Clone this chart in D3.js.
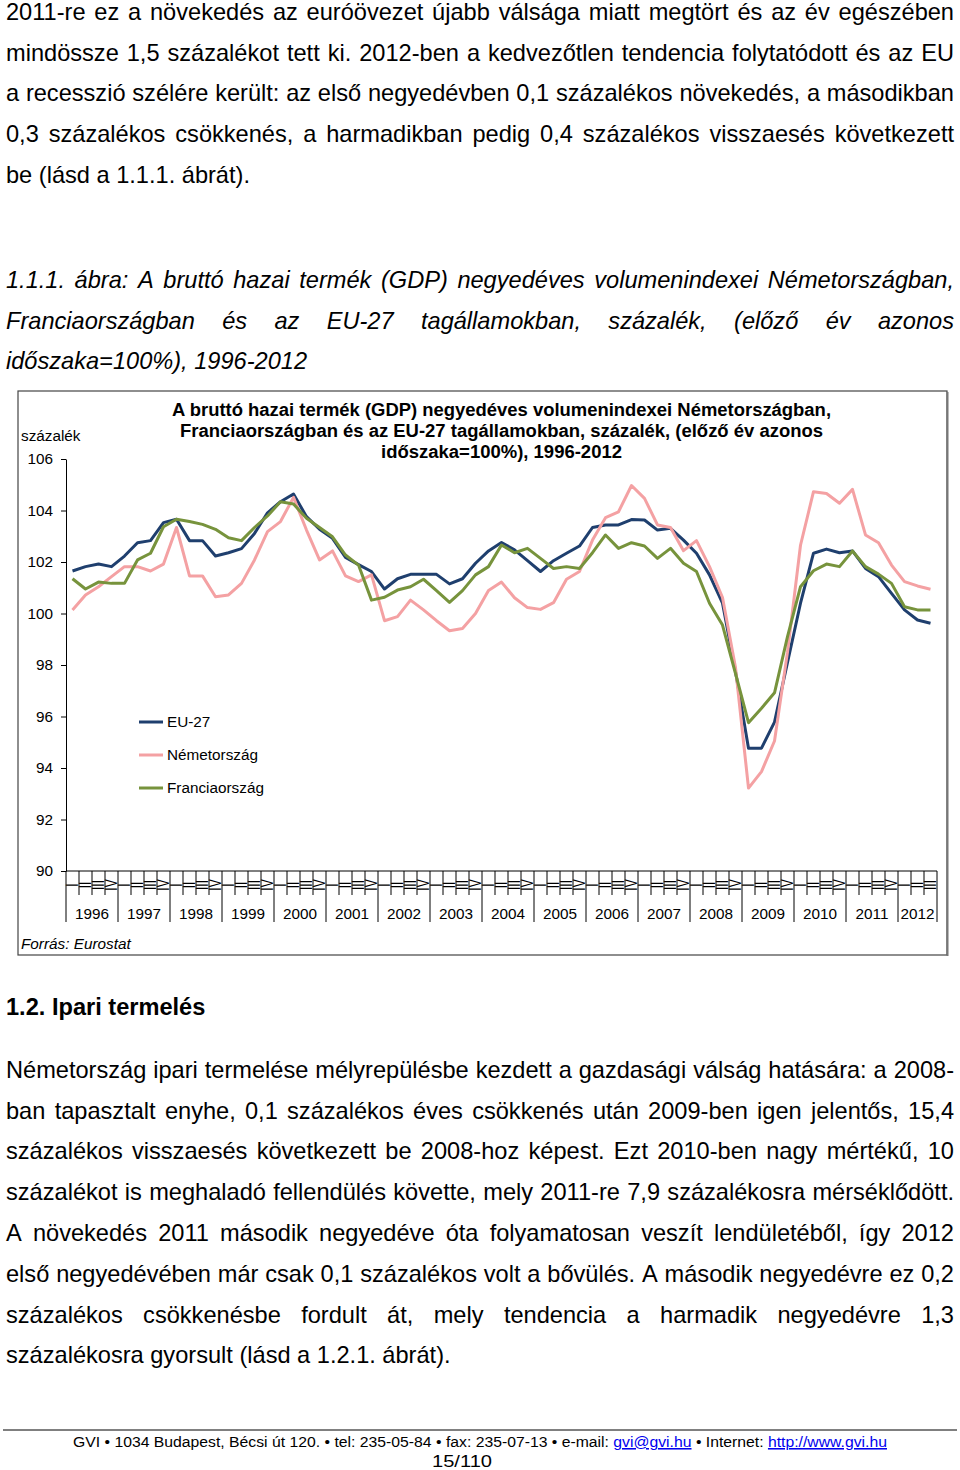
<!DOCTYPE html>
<html><head><meta charset="utf-8">
<script src="https://cdn.jsdelivr.net/npm/d3@7"></script>
<style>
html,body{margin:0;padding:0;background:#fff;}
svg{display:block;}
</style></head>
<body>
<svg id="page" width="960" height="1470"></svg>
<script>
// ---------- DATA ----------
const years = ["1996","1997","1998","1999","2000","2001","2002","2003","2004","2005","2006","2007","2008","2009","2010","2011","2012"];
const quarterLabels = ["I","II","III","IV"];
const yTicks = [90,92,94,96,98,100,102,104,106];
const seriesNames = ["EU-27","Németország","Franciaország"];
const eu27 = [101.65,101.82,101.92,101.82,102.23,102.75,102.83,103.53,103.66,102.83,102.83,102.23,102.36,102.52,103.11,103.91,104.34,104.64,103.76,103.27,102.92,102.18,101.90,101.63,100.95,101.35,101.52,101.52,101.52,101.15,101.35,101.95,102.43,102.76,102.47,102.05,101.63,102.05,102.34,102.62,103.34,103.44,103.44,103.65,103.63,103.24,103.31,102.85,102.34,101.50,100.40,97.75,94.77,94.77,95.78,98.1,100.4,102.34,102.50,102.36,102.43,101.75,101.43,100.78,100.14,99.75,99.62];
const germany = [100.14,100.72,101.04,101.43,101.82,101.82,101.65,101.92,103.34,101.46,101.46,100.65,100.72,101.17,102.08,103.18,103.57,104.51,103.24,102.08,102.43,101.46,101.24,101.50,99.72,99.88,100.52,100.14,99.72,99.33,99.42,100.0,100.89,101.22,100.61,100.23,100.16,100.42,101.33,101.63,102.85,103.72,103.95,104.97,104.47,103.44,103.34,102.44,102.83,101.82,100.62,97.9,93.22,93.86,95.05,98.5,102.65,104.73,104.66,104.28,104.82,103.05,102.75,101.88,101.24,101.07,100.94];
const france = [101.35,100.95,101.22,101.17,101.17,102.08,102.34,103.37,103.66,103.57,103.46,103.27,102.94,102.83,103.34,103.79,104.34,104.25,103.70,103.34,102.98,102.27,101.88,100.52,100.63,100.91,101.04,101.33,100.89,100.43,100.89,101.50,101.82,102.66,102.36,102.53,102.14,101.75,101.82,101.75,102.36,103.05,102.53,102.75,102.62,102.14,102.53,101.95,101.63,100.40,99.55,97.67,95.76,96.32,96.92,99.1,101.04,101.66,101.92,101.82,102.43,101.82,101.53,101.17,100.26,100.14,100.14];

const para1 = [
 "2011-re ez a növekedés az euróövezet újabb válsága miatt megtört és az év egészében",
 "mindössze 1,5 százalékot tett ki. 2012-ben a kedvezőtlen tendencia folytatódott és az EU",
 "a recesszió szélére került: az első negyedévben 0,1 százalékos növekedés, a másodikban",
 "0,3 százalékos csökkenés, a harmadikban pedig 0,4 százalékos visszaesés következett",
 "be (lásd a 1.1.1. ábrát)."
];
const caption = [
 "1.1.1. ábra: A bruttó hazai termék (GDP) negyedéves volumenindexei Németországban,",
 "Franciaországban és az EU-27 tagállamokban, százalék, (előző év azonos",
 "időszaka=100%), 1996-2012"
];
const chartTitle = [
 "A bruttó hazai termék (GDP) negyedéves volumenindexei Németországban,",
 "Franciaországban és az EU-27 tagállamokban, százalék, (előző év azonos",
 "időszaka=100%), 1996-2012"
];
const heading = "1.2. Ipari termelés";
const para2 = [
 "Németország ipari termelése mélyrepülésbe kezdett a gazdasági válság hatására: a 2008-",
 "ban tapasztalt enyhe, 0,1 százalékos éves csökkenés után 2009-ben igen jelentős, 15,4",
 "százalékos visszaesés következett be 2008-hoz képest. Ezt 2010-ben nagy mértékű, 10",
 "százalékot is meghaladó fellendülés követte, mely 2011-re 7,9 százalékosra mérséklődött.",
 "A növekedés 2011 második negyedéve óta folyamatosan veszít lendületéből, így 2012",
 "első negyedévében már csak 0,1 százalékos volt a bővülés. A második negyedévre ez 0,2",
 "százalékos csökkenésbe fordult át, mely tendencia a harmadik negyedévre 1,3",
 "százalékosra gyorsult (lásd a 1.2.1. ábrát)."
];

// ---------- PAGE ----------
const svg = d3.select("#page");
const FONT = "'Liberation Sans', Arial, Helvetica, sans-serif";
const BODY = 23.6;

function measure(str, size, weight, style){
  const t = svg.append("text").attr("font-family", FONT).attr("font-size", size)
    .attr("font-weight", weight||"normal").attr("font-style", style||"normal").text(str);
  const w = t.node().getComputedTextLength(); t.remove(); return w;
}
function textLine(str, x0, x1, baseline, opts){
  const size = opts.size, weight = opts.weight||"normal", style = opts.style||"normal";
  const t = svg.append("text").attr("font-family", FONT).attr("font-size", size)
    .attr("font-weight", weight).attr("font-style", style).attr("fill", "#000").attr("y", baseline);
  if(!opts.justify){ t.attr("x", x0).text(str); return; }
  const words = str.split(" ");
  const widths = words.map(w => measure(w, size, weight, style));
  const gap = (x1 - x0 - d3.sum(widths)) / (words.length - 1);
  let x = x0;
  words.forEach((w,i) => { t.append("tspan").attr("x", x).text(w); x += widths[i] + gap; });
}

const bodyBase1 = [20,61,101,142,183];
para1.forEach((l,i) => textLine(l, 6, 954, bodyBase1[i], {size:BODY, justify: i < para1.length-1}));
const capBase = [288,329,369];
caption.forEach((l,i) => textLine(l, 6, 954, capBase[i], {size:BODY, style:"italic", justify: i < caption.length-1}));
textLine(heading, 6, 954, 1015, {size:BODY, weight:"bold"});
const bodyBase2 = [1078,1119,1159,1200,1241,1282,1323,1363];
para2.forEach((l,i) => textLine(l, 6, 954, bodyBase2[i], {size:BODY, justify: i < para2.length-1}));

// footer
svg.append("line").attr("x1",3).attr("x2",957).attr("y1",1430).attr("y2",1430).attr("stroke","#000").attr("stroke-width",1);
const foot = svg.append("text").attr("font-family",FONT).attr("font-size",15.5)
  .attr("x",73).attr("y",1447).attr("textLength",814).attr("lengthAdjust","spacingAndGlyphs");
foot.append("tspan").text("GVI • 1034 Budapest, Bécsi út 120. • tel: 235-05-84 • fax: 235-07-13 • e-mail: ");
foot.append("tspan").attr("fill","#0000ee").attr("text-decoration","underline").text("gvi@gvi.hu");
foot.append("tspan").text(" • Internet: ");
foot.append("tspan").attr("fill","#0000ee").attr("text-decoration","underline").text("http://www.gvi.hu");
svg.append("text").attr("font-family",FONT).attr("font-size",17)
  .attr("x",432).attr("y",1467).attr("textLength",60).attr("lengthAdjust","spacingAndGlyphs").text("15/110");

// ---------- CHART ----------
const frame = svg.append("g");
frame.append("rect").attr("x",18).attr("y",391).attr("width",929).attr("height",564)
  .attr("fill","#fff").attr("stroke","#444").attr("stroke-width",1.2);
frame.append("line").attr("x1",947.5).attr("x2",947.5).attr("y1",392).attr("y2",956).attr("stroke","#777").attr("stroke-width",2);

const categories = years.flatMap(y => quarterLabels.map(q => y + "-" + q)).slice(0, eu27.length);
const x = d3.scaleBand().domain(categories).range([66, 937]).padding(0);
const y = d3.scaleLinear().domain([90, 106]).range([871, 459]);

const chart = svg.append("g");
const titleSpan = [[172,831],[180,823],[381,622]];
chartTitle.forEach((l,i) => {
  chart.append("text").attr("x",titleSpan[i][0]).attr("y",416 + i*21)
    .attr("textLength", titleSpan[i][1]-titleSpan[i][0]).attr("lengthAdjust","spacingAndGlyphs")
    .attr("font-family",FONT).attr("font-size",17.5).attr("font-weight","bold").text(l);
});
const SMALL = 15.3;
chart.append("text").attr("x",21).attr("y",441).attr("font-family",FONT).attr("font-size",SMALL).text("százalék");
chart.append("text").attr("x",21).attr("y",949).attr("font-family",FONT).attr("font-size",SMALL)
  .attr("font-style","italic").text("Forrás: Eurostat");

// y axis
const yAxis = chart.append("g").attr("transform","translate(66,0)")
  .call(d3.axisLeft(y).tickValues(yTicks).tickSize(5).tickSizeOuter(0).tickPadding(8).tickFormat(d3.format("d")));
yAxis.select(".domain").attr("stroke","#000");
yAxis.selectAll(".tick line").attr("stroke","#000");
yAxis.selectAll("text").attr("font-family",FONT).attr("font-size",SMALL).attr("fill","#000");

// x axis
const xg = chart.append("g");
xg.append("line").attr("x1",66).attr("x2",937).attr("y1",y(90)).attr("y2",y(90)).attr("stroke","#000");
categories.forEach((c,i) => {
  const isYearStart = c.endsWith("-I");
  xg.append("line").attr("x1",x(c)).attr("x2",x(c)).attr("y1",y(90))
    .attr("y2", isYearStart ? y(90)+51 : y(90)+24).attr("stroke","#000").attr("stroke-width",1);
  const cx = x(c) + x.bandwidth()/2;
  xg.append("text").attr("transform",`translate(${cx},885) scale(1.4,1) rotate(-90)`)
    .attr("text-anchor","middle").attr("dominant-baseline","central")
    .attr("font-family",FONT).attr("font-size",12).text(c.split("-")[1]);
});
xg.append("line").attr("x1",937).attr("x2",937).attr("y1",y(90)).attr("y2",y(90)+51).attr("stroke","#000");
years.forEach(yr => {
  const cats = categories.filter(c => c.startsWith(yr));
  if(!cats.length) return;
  const x0 = x(cats[0]), x1 = x(cats[cats.length-1]) + x.bandwidth();
  xg.append("text").attr("x",(x0+x1)/2).attr("y",919).attr("text-anchor","middle")
    .attr("font-family",FONT).attr("font-size",SMALL).text(yr);
});

// lines
const colors = ["#1f3f6e","#f4a1a3","#77933c"];
const allSeries = [eu27, germany, france];
const line = d3.line().x((d,i) => x(categories[i]) + x.bandwidth()/2).y(d => y(d));
allSeries.forEach((s,k) => {
  chart.append("path").datum(s).attr("d", line).attr("fill","none")
    .attr("stroke", colors[k]).attr("stroke-width",3).attr("stroke-linejoin","round");
});

// legend
const legY = [722, 755, 788];
seriesNames.forEach((n,k) => {
  chart.append("line").attr("x1",139).attr("x2",163).attr("y1",legY[k]).attr("y2",legY[k])
    .attr("stroke",colors[k]).attr("stroke-width",3);
  chart.append("text").attr("x",167).attr("y",legY[k]+5).attr("font-family",FONT).attr("font-size",SMALL).text(n);
});
</script>
</body></html>
